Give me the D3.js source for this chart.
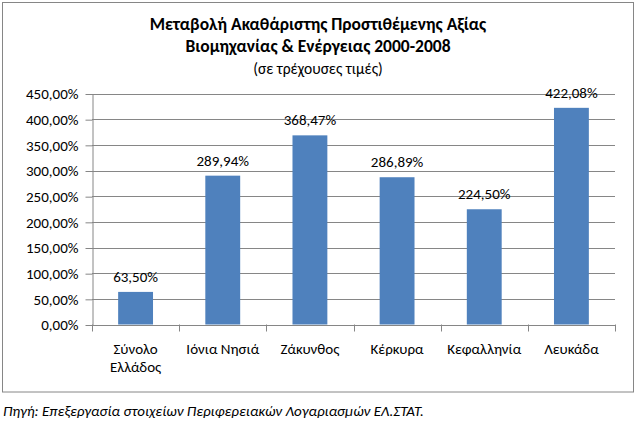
<!DOCTYPE html>
<html><head><meta charset="utf-8">
<script src="https://cdn.jsdelivr.net/npm/d3@7"></script>
<style>body{margin:0;background:#fff}svg{display:block}</style>
</head><body>
<script>
const categories = [["Σύνολο","Ελλάδος"],["Ιόνια Νησιά"],["Ζάκυνθος"],["Κέρκυρα"],["Κεφαλληνία"],["Λευκάδα"]];
const values = [63.50, 289.94, 368.47, 286.89, 224.50, 422.08];
const yTicks = [0,50,100,150,200,250,300,350,400,450];
const titleLines = ["Μεταβολή Ακαθάριστης Προστιθέμενης Αξίας","Βιομηχανίας & Ενέργειας 2000-2008"];
const subtitle = "(σε τρέχουσες τιμές)";
const source = "Πηγή: Επεξεργασία στοιχείων Περιφερειακών Λογαριασμών ΕΛ.ΣΤΑΤ.";

const W=638,H=426;
const font = "Carlito, Calibri, Lato, 'Noto Sans', sans-serif";
const fmt = v => d3.format(".2f")(v).replace(".", ",") + "%";
const svg = d3.select("body").append("svg").attr("width",W).attr("height",H);
svg.append("rect").attr("x",2.5).attr("y",2.5).attr("width",631).attr("height",389.5)
  .attr("fill","#fff").attr("stroke","#868686").attr("stroke-width",1);

const x = d3.scaleBand().domain(d3.range(categories.length)).range([92,615]).paddingInner(0.6).paddingOuter(0.3);
const y = d3.scaleLinear().domain([0,450]).range([324.5,93.5]);

const g = svg.append("g");
g.selectAll(".grid").data(yTicks.slice(1)).join("line")
  .attr("x1",92).attr("x2",615).attr("y1",d=>Math.round(y(d))+0.5).attr("y2",d=>Math.round(y(d))+0.5)
  .attr("stroke","#868686").attr("stroke-width",1);
const yAxis = g.append("g").attr("transform","translate(92.5,0.5)")
  .call(d3.axisLeft(y).tickValues(yTicks).tickFormat(fmt).tickSize(7).tickSizeOuter(0));
yAxis.select(".domain").attr("stroke","#868686");
yAxis.selectAll(".tick line").attr("stroke","#868686");
yAxis.selectAll(".tick text").attr("font-family",font).attr("font-size",15).attr("fill","#000").attr("x",-14);
g.selectAll(".bar").data(values).join("rect")
  .attr("x",(d,i)=>x(i)).attr("width",x.bandwidth())
  .attr("y",d=>y(d)).attr("height",d=>y(0)-y(d))
  .attr("fill","#4F81BD");
const step = (615-92)/categories.length;
g.append("line").attr("x1",92).attr("x2",615).attr("y1",Math.round(y(0))+0.5).attr("y2",Math.round(y(0))+0.5).attr("stroke","#868686");
g.selectAll(".xt").data(d3.range(categories.length+1)).join("line")
  .attr("x1",i=>Math.round(92+i*step)+0.5).attr("x2",i=>Math.round(92+i*step)+0.5)
  .attr("y1",y(0)).attr("y2",y(0)+7).attr("stroke","#868686");
g.selectAll(".xl").data(categories).join("text")
  .attr("x",(d,i)=>x(i)+x.bandwidth()/2).attr("y",354)
  .attr("text-anchor","middle").attr("font-family",font).attr("font-size",15)
  .each(function(d){ d3.select(this).selectAll("tspan").data(d).join("tspan")
     .attr("x",d3.select(this).attr("x")).attr("dy",(t,j)=>j?18:0).text(t=>t);});
g.selectAll(".vl").data(values).join("text")
  .attr("x",(d,i)=>x(i)+x.bandwidth()/2).attr("y",d=>y(d)-10)
  .attr("text-anchor","middle").attr("font-family",font).attr("font-size",15).text(fmt);
svg.selectAll(".t").data(titleLines).join("text")
  .attr("x",318).attr("y",(d,i)=>30+i*22).attr("text-anchor","middle")
  .attr("font-family",font).attr("font-size",17.5).attr("font-weight","bold").text(d=>d);
svg.append("text").attr("x",318).attr("y",74).attr("text-anchor","middle")
  .attr("font-family",font).attr("font-size",15.5).text(subtitle);
svg.append("text").attr("x",3).attr("y",416).attr("font-family",font).attr("font-size",15)
  .attr("font-style","italic").text(source);
</script>
</body></html>
